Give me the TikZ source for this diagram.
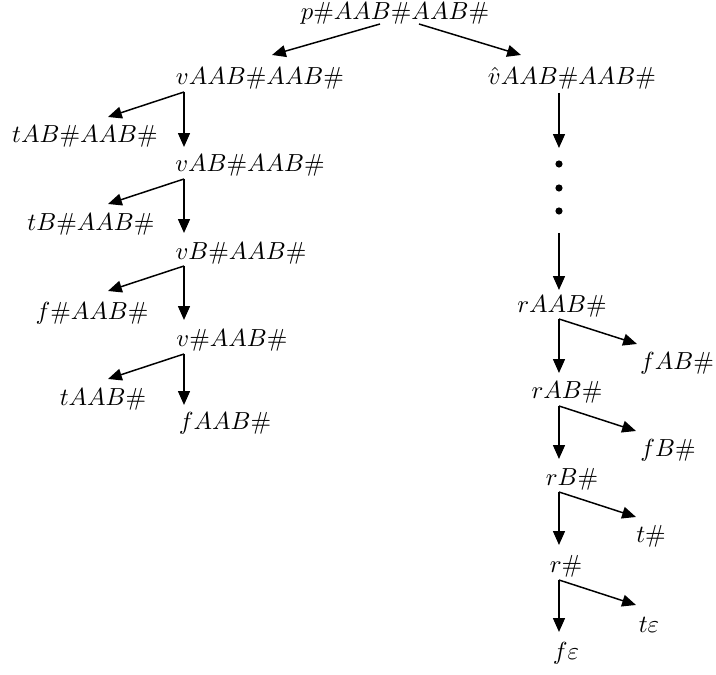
\documentclass[tikz,border=0pt]{standalone}
\usetikzlibrary{arrows.meta}
\begin{document}
\begin{tikzpicture}[x=0.405pt,y=-0.405pt,
  lbl/.style={inner sep=0pt,anchor=base},
  arr/.style={-{Triangle[length=5.6pt,width=4.8pt]},line width=0.6pt},
  dotmark/.style={circle,fill=black,inner sep=0pt,minimum size=2.9pt}]
\useasboundingbox (0,0) rectangle (716,675);

% nodes of the derivation tree (placed on their baselines)
\node[lbl] (root) at (395,20) {$p\#AAB\#AAB\#$};
\node[lbl] (vAAB) at (260,85) {$vAAB\#AAB\#$};
\node[lbl] (hv)   at (572,85) {$\hat{v}AAB\#AAB\#$};

\node[lbl] (tAB)  at (85,143)  {$tAB\#AAB\#$};
\node[lbl] (vAB)  at (250,172) {$vAB\#AAB\#$};
\node[lbl] (tB)   at (91,231)  {$tB\#AAB\#$};
\node[lbl] (vB)   at (241,260) {$vB\#AAB\#$};
\node[lbl] (fH)   at (92,320)  {$f\#AAB\#$};
\node[lbl] (vH)   at (232,347) {$v\#AAB\#$};
\node[lbl] (tAAB) at (103,406) {$tAAB\#$};
\node[lbl] (fAAB) at (225,430) {$fAAB\#$};

\node[lbl] (rAAB) at (562,313) {$rAAB\#$};
\node[lbl] (fAB)  at (677,370) {$fAB\#$};
\node[lbl] (rAB)  at (567,399) {$rAB\#$};
\node[lbl] (fB)   at (668,457) {$fB\#$};
\node[lbl] (rB)   at (572,486) {$rB\#$};
\node[lbl] (tH)   at (651,543) {$t\#$};
\node[lbl] (rH)   at (566,573) {$r\#$};
\node[lbl] (teps) at (649,633) {$t\varepsilon$};
\node[lbl] (feps) at (566,660) {$f\varepsilon$};

% elided steps
\node[dotmark] (d1) at (559,164) {};
\node[dotmark] (d2) at (559,188) {};
\node[dotmark] (d3) at (559,211) {};

% connector ends
\coordinate (root-l) at (380,24);
\coordinate (root-r) at (419,24);
\coordinate (vAAB-in) at (272,55);
\coordinate (hv-in) at (521,55);

\coordinate (vAAB-o) at (184,92);
\coordinate (tAB-in) at (108,117);
\coordinate (vAB-in) at (184,147);
\coordinate (vAB-o) at (184,179);
\coordinate (tB-in) at (108,204);
\coordinate (vB-in) at (184,233);
\coordinate (vB-o) at (184,266);
\coordinate (fH-in) at (108,291);
\coordinate (vH-in) at (184,320);
\coordinate (vH-o) at (184,354);
\coordinate (tAAB-in) at (108,379);
\coordinate (fAAB-in) at (184,405);

\coordinate (hv-o) at (559,93);
\coordinate (dots-in) at (559,148);
\coordinate (dots-o) at (559,233);
\coordinate (rAAB-in) at (559,290);
\coordinate (rAAB-o) at (559,319);
\coordinate (fAB-in) at (637,344);
\coordinate (rAB-in) at (559,373);
\coordinate (rAB-o) at (559,406);
\coordinate (fB-in) at (636,431);
\coordinate (rB-in) at (559,459);
\coordinate (rB-o) at (559,492);
\coordinate (tH-in) at (636,517);
\coordinate (rH-in) at (559,545);
\coordinate (rH-o) at (559,580);
\coordinate (teps-in) at (636,605);
\coordinate (feps-in) at (559,632);

% connectors
\draw[arr] (root-l) -- (vAAB-in);
\draw[arr] (root-r) -- (hv-in);

\draw[arr] (vAAB-o) -- (tAB-in);
\draw[arr] (vAAB-o) -- (vAB-in);
\draw[arr] (vAB-o) -- (tB-in);
\draw[arr] (vAB-o) -- (vB-in);
\draw[arr] (vB-o) -- (fH-in);
\draw[arr] (vB-o) -- (vH-in);
\draw[arr] (vH-o) -- (tAAB-in);
\draw[arr] (vH-o) -- (fAAB-in);

\draw[arr] (hv-o) -- (dots-in);
\draw[arr] (dots-o) -- (rAAB-in);
\draw[arr] (rAAB-o) -- (rAB-in);
\draw[arr] (rAAB-o) -- (fAB-in);
\draw[arr] (rAB-o) -- (rB-in);
\draw[arr] (rAB-o) -- (fB-in);
\draw[arr] (rB-o) -- (rH-in);
\draw[arr] (rB-o) -- (tH-in);
\draw[arr] (rH-o) -- (feps-in);
\draw[arr] (rH-o) -- (teps-in);
\end{tikzpicture}
\end{document}
